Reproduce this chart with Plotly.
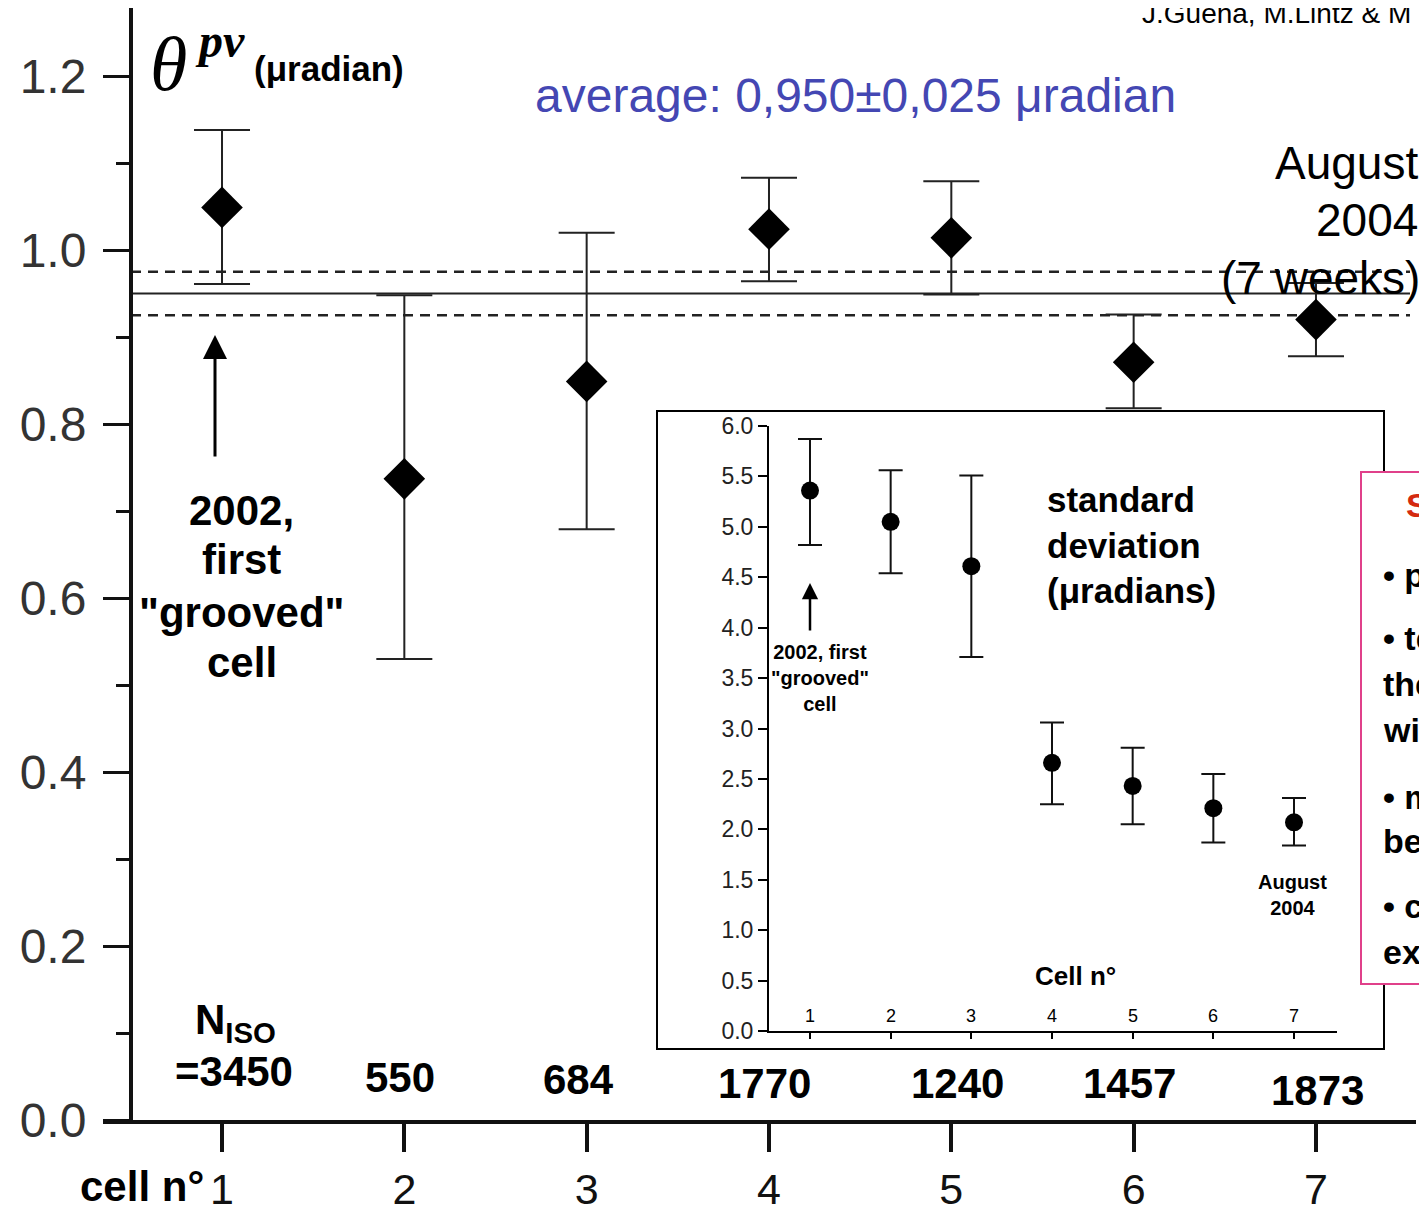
import plotly.graph_objects as go

W, H = 1427, 1205
OFF = 8  # default page margin of the HTML body

# ---------------- data ----------------
cells = [1, 2, 3, 4, 5, 6, 7]
cell_tick_text = ["1", "2", "3", "4", "5", "6", "7"]

theta_pv = [1.049, 0.737, 0.849, 1.024, 1.014, 0.871, 0.920]
theta_err_plus = [0.089, 0.211, 0.171, 0.059, 0.065, 0.055, 0.042]
theta_err_minus = [0.088, 0.207, 0.170, 0.060, 0.065, 0.053, 0.042]

average = 0.950
average_err = 0.025

n_iso = ["=3450", "550", "684", "1770", "1240", "1457", "1873"]

std_dev = [5.36, 5.05, 4.61, 2.66, 2.43, 2.21, 2.07]
std_err_plus = [0.51, 0.51, 0.90, 0.40, 0.38, 0.34, 0.24]
std_err_minus = [0.54, 0.51, 0.90, 0.41, 0.38, 0.34, 0.23]

main_yticks = [0.0, 0.2, 0.4, 0.6, 0.8, 1.0, 1.2]
inset_yticks = [0.0, 0.5, 1.0, 1.5, 2.0, 2.5, 3.0, 3.5, 4.0, 4.5, 5.0, 5.5, 6.0]

SANS = "Liberation Sans, Arial, Helvetica, sans-serif"
SERIF = "Liberation Serif, Times New Roman, serif"


def px(x):
    return (x - OFF) / W


def py(y):
    return 1 - (y - OFF) / H


fig = go.Figure()

# main series
fig.add_trace(go.Scatter(
    x=cells, y=theta_pv, mode="markers",
    marker=dict(symbol="diamond", size=32, color="black"),
    error_y=dict(type="data", symmetric=False, array=theta_err_plus,
                 arrayminus=theta_err_minus, color="#222", thickness=2, width=28),
    xaxis="x", yaxis="y", showlegend=False, hoverinfo="skip",
))

# inset series
fig.add_trace(go.Scatter(
    x=cells, y=std_dev, mode="markers",
    marker=dict(symbol="circle", size=18, color="black"),
    error_y=dict(type="data", symmetric=False, array=std_err_plus,
                 arrayminus=std_err_minus, color="#111", thickness=2, width=12),
    xaxis="x2", yaxis="y2", showlegend=False, hoverinfo="skip",
))

shapes = []
# inset frame
shapes.append(dict(type="rect", xref="paper", yref="paper",
                   x0=px(657), x1=px(1384), y0=py(1049), y1=py(411),
                   line=dict(color="black", width=2), fillcolor="white", layer="below"))
# pink box on the right
shapes.append(dict(type="rect", xref="paper", yref="paper",
                   x0=px(1361), x1=px(1460), y0=py(984), y1=py(472),
                   line=dict(color="#e0408a", width=2), fillcolor="white", layer="below"))
# average and +/- error lines
for val, dash, col, wd in [(average, "solid", "#222", 2),
                           (average + average_err, "10px,7px", "#222", 2.5),
                           (average - average_err, "10px,7px", "#222", 2.5)]:
    shapes.append(dict(type="line", xref="paper", yref="y",
                       x0=px(131), x1=px(1410), y0=val, y1=val,
                       line=dict(color=col, width=wd, dash=dash), layer="below"))

ann = []


def txt(text, x, y, size, bold=False, color="black", xanchor="center",
        yanchor="middle", family=SANS, align="center"):
    t = f"<b>{text}</b>" if bold else text
    ann.append(dict(text=t, x=px(x), y=py(y), xref="paper", yref="paper",
                    xanchor=xanchor, yanchor=yanchor, showarrow=False, align=align,
                    font=dict(size=size, color=color, family=family)))


# y-axis title
txt("<i>θ</i>", 168, 64, 76, family=SERIF)
txt("<b><i>pv</i></b>", 220, 40, 48, family=SERIF)
txt("(μradian)", 329, 68, 35, bold=True)

txt("average: 0,950±0,025 μradian", 855, 96, 48, color="#4447b3")
txt("J.Guena, M.Lintz &amp; M", 1140, 14, 28, xanchor="left")

txt("August", 1420, 163, 46, xanchor="right")
txt("2004", 1420, 220, 46, xanchor="right")
txt("(7 weeks)", 1422, 278, 46, xanchor="right")

for s, yy in [("2002,", 510), ("first", 560), ("\"grooved\"", 612), ("cell", 662)]:
    txt(s, 242, yy, 42, bold=True)

ann.append(dict(x=px(215), y=py(335), xref="paper", yref="paper", text="",
                showarrow=True, ax=0, ay=123, arrowhead=2, arrowsize=1.6,
                arrowwidth=3, arrowcolor="black"))

txt("N<sub>ISO</sub>", 235, 1022, 42, bold=True)
n_shift = [12, -4, -8, -4, 6, -4, 2]
n_y = [1071, 1077, 1079, 1083, 1083, 1083, 1090]
for c, lab, sh, yy in zip(cells, n_iso, n_shift, n_y):
    ann.append(dict(text=f"<b>{lab}</b>", x=c, y=py(yy), xref="x", yref="paper",
                    xshift=sh, xanchor="center", yanchor="middle", showarrow=False,
                    font=dict(size=42, color="black", family=SANS)))

txt("cell n°", 142, 1186, 42, bold=True)

# inset x tick labels (drawn above the inset axis line)
for c, lab in zip(cells, cell_tick_text):
    ann.append(dict(text=lab, x=c, y=py(1016), xref="x2", yref="paper",
                    xanchor="center", yanchor="middle", showarrow=False,
                    font=dict(size=18, color="black", family=SANS)))

# inset annotations
txt("standard<br>deviation<br>(μradians)", 1045, 545, 35, bold=True,
    xanchor="left", align="left")
txt("2002, first<br>\"grooved\"<br>cell", 820, 678, 20, bold=True)
ann.append(dict(x=px(810), y=py(583), xref="paper", yref="paper", text="",
                showarrow=True, ax=0, ay=49, arrowhead=2, arrowsize=1.3,
                arrowwidth=2.5, arrowcolor="black"))
txt("August<br>2004", 1292, 895, 20, bold=True)
txt("Cell n°", 1033, 976, 26, bold=True, xanchor="left")

# right box (clipped by page edge)
txt("S", 1404, 505, 34, bold=True, color="#d42a10", xanchor="left")
for s, yy in [("• p", 575), ("• te", 638), ("the", 684), ("wi", 730),
              ("• m", 797), ("bet", 841), ("• c", 906), ("ext", 952)]:
    txt(s, 1381, yy, 34, bold=True, xanchor="left")

fig.update_layout(
    width=W, height=H,
    margin=dict(l=0, r=0, t=0, b=0, pad=0, autoexpand=False),
    paper_bgcolor="white", plot_bgcolor="rgba(0,0,0,0)",
    font=dict(family=SANS, color="black"),
    shapes=shapes, annotations=ann, showlegend=False,
    xaxis=dict(
        domain=[px(103), px(1416)], range=[0.3473, 7.5486], anchor="y",
        automargin=False,
        tickmode="array", tickvals=cells, ticktext=cell_tick_text,
        ticks="outside", ticklen=28, tickwidth=4, tickcolor="#111",
        tickfont=dict(size=43, color="#111", family=SANS), ticklabelstandoff=0,
        showline=True, linecolor="#111", linewidth=4,
        showgrid=False, zeroline=False,
    ),
    yaxis=dict(
        domain=[py(1120), py(8)], range=[0, 1.2782], anchor="free", position=px(131),
        automargin=False,
        tickmode="array", tickvals=main_yticks, tickformat=".1f",
        ticks="outside", ticklen=26, tickwidth=3, tickcolor="#111",
        minor=dict(dtick=0.1, tick0=0, ticks="outside", ticklen=13, tickwidth=3,
                   tickcolor="#111", showgrid=False),
        tickfont=dict(size=48, color="#333", family=SANS), ticklabelstandoff=7,
        showline=True, linecolor="#111", linewidth=4,
        showgrid=False, zeroline=False,
    ),
    xaxis2=dict(
        domain=[px(769), px(1337)], range=[0.4918, 7.533], anchor="y2",
        automargin=False,
        tickmode="array", tickvals=cells, showticklabels=False,
        ticks="outside", ticklen=6, tickwidth=2, tickcolor="black",
        showline=True, linecolor="black", linewidth=2,
        showgrid=False, zeroline=False,
    ),
    yaxis2=dict(
        domain=[py(1031), py(426)], range=[0, 6], anchor="x2",
        automargin=False,
        tickmode="array", tickvals=inset_yticks, tickformat=".1f",
        ticks="outside", ticklen=9, tickwidth=2, tickcolor="black",
        tickfont=dict(size=23, color="#222", family=SANS),
        showline=True, linecolor="black", linewidth=2,
        showgrid=False, zeroline=False,
    ),
)

fig.write_html("out.html")
